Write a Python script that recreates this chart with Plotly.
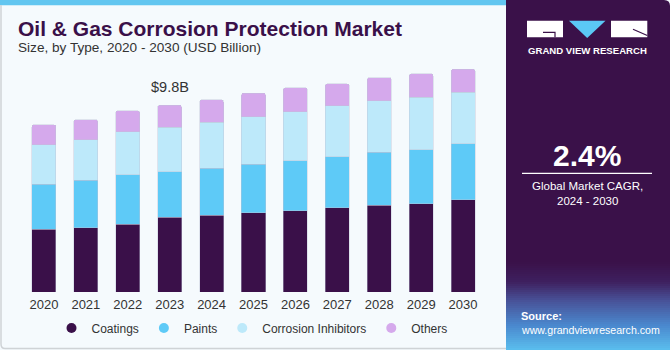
import plotly.graph_objects as go

years = ["2020", "2021", "2022", "2023", "2024", "2025", "2026", "2027", "2028", "2029", "2030"]
coatings = [3.28, 3.38, 3.56, 3.92, 4.03, 4.15, 4.27, 4.41, 4.55, 4.62, 4.83]
paints = [2.37, 2.48, 2.58, 2.37, 2.46, 2.55, 2.62, 2.67, 2.77, 2.83, 2.93]
inhibitors = [2.06, 2.12, 2.27, 2.35, 2.41, 2.48, 2.55, 2.67, 2.70, 2.76, 2.72]
others = [1.05, 1.05, 1.08, 1.15, 1.17, 1.24, 1.26, 1.15, 1.22, 1.22, 1.20]

series_names = ["Coatings", "Paints", "Corrosion Inhibitors", "Others"]
series_colors = ["#3a1049", "#5ecaf7", "#bde9fa", "#d5a9ec"]
series_values = [coatings, paints, inhibitors, others]

highlight_year = "2023"
highlight_label = "$9.8B"
cagr_text = "2.4%"

W, H = 670, 350
ML, MR, MT, MB = 23, 186, 63, 58
PW, PH = W - ML - MR, H - MT - MB


def px(x):
    return (x - ML) / PW


def py(y):
    return (H - MB - y) / PH


FONT = "Liberation Sans"
BG = "#f5fafd"
PANEL = "#3a1149"

fig = go.Figure()
for name, col, vals in zip(series_names, series_colors, series_values):
    fig.add_trace(go.Bar(
        x=years, y=vals, name=name, marker_color=col,
        marker_line=dict(width=0.6, color="rgba(190,195,215,0.7)"),
        showlegend=False,
    ))
for name, col in zip(series_names, series_colors):
    fig.add_trace(go.Scatter(
        x=[None], y=[None], mode="markers", name=name,
        marker=dict(color=col, size=10, symbol="circle"),
    ))

idx = years.index(highlight_year)
total = coatings[idx] + paints[idx] + inhibitors[idx] + others[idx]

shapes = []
# top strip
shapes.append(dict(type="rect", xref="paper", yref="paper", x0=px(0), x1=px(506), y0=py(0), y1=py(5.3),
                   fillcolor="#62c6f0", line_width=0, layer="below"))
# left panel border
shapes.append(dict(type="path", xref="paper", yref="paper",
                   path=f"M {px(1)} {py(5)} L {px(1)} {py(344)} Q {px(1)} {py(348.5)} {px(5)} {py(348.5)} L {px(506)} {py(348.5)}",
                   line=dict(color="#cfd3d6", width=1.5), layer="below"))
# right panel
shapes.append(dict(type="path", xref="paper", yref="paper",
                   path=f"M {px(506)} {py(0)} L {px(664)} {py(0)} Q {px(670)} {py(0)} {px(670)} {py(6)} L {px(670)} {py(350)} L {px(506)} {py(350)} Z",
                   fillcolor=PANEL, line_width=0, layer="below"))

# gradient at panel bottom
stops = [(262, (58, 17, 73)), (282, (62, 32, 95)), (300, (72, 80, 150)), (325, (74, 135, 205)), (350, (90, 190, 238))]
n = 44
y_start, y_end = 262, 350
for i in range(n):
    ya = y_start + (y_end - y_start) * i / n
    yb = y_start + (y_end - y_start) * (i + 1) / n
    ym = (ya + yb) / 2
    for (s0, c0), (s1, c1) in zip(stops[:-1], stops[1:]):
        if s0 <= ym <= s1:
            t = (ym - s0) / (s1 - s0)
            c = tuple(int(round(a + (b - a) * t)) for a, b in zip(c0, c1))
            break
    shapes.append(dict(type="rect", xref="paper", yref="paper", x0=px(506), x1=px(670),
                       y0=py(yb + 0.3), y1=py(ya), fillcolor=f"rgb{c}", line_width=0, layer="below"))

# logo
shapes.append(dict(type="rect", xref="paper", yref="paper", x0=px(527), x1=px(563), y0=py(37.3), y1=py(20.7),
                   fillcolor="white", line_width=0))
shapes.append(dict(type="path", xref="paper", yref="paper",
                   path=f"M {px(543)} {py(32.3)} L {px(555)} {py(32.3)} L {px(555)} {py(37.3)}",
                   line=dict(color=PANEL, width=1.2)))
shapes.append(dict(type="path", xref="paper", yref="paper",
                   path=f"M {px(569)} {py(20.7)} L {px(605.5)} {py(20.7)} L {px(587.2)} {py(38)} Z",
                   fillcolor="#5bc8f5", line_width=0))
shapes.append(dict(type="rect", xref="paper", yref="paper", x0=px(611), x1=px(647.3), y0=py(37.3), y1=py(20.7),
                   fillcolor="white", line_width=0))
shapes.append(dict(type="path", xref="paper", yref="paper",
                   path=f"M {px(633)} {py(29.3)} L {px(647.3)} {py(35.5)}",
                   line=dict(color=PANEL, width=1.2)))
# CAGR divider
shapes.append(dict(type="line", xref="paper", yref="paper", x0=px(522), x1=px(652), y0=py(173.3), y1=py(173.3),
                   line=dict(color="white", width=1.2)))

annotations = [
    dict(text="Oil & Gas Corrosion Protection Market", x=px(16), y=py(28.5), xref="paper", yref="paper",
         xanchor="left", yanchor="middle", showarrow=False,
         font=dict(family=FONT, size=21, color="#3a1049", weight="bold")),
    dict(text="Size, by Type, 2020 - 2030 (USD Billion)", x=px(16), y=py(47.7), xref="paper", yref="paper",
         xanchor="left", yanchor="middle", showarrow=False,
         font=dict(family=FONT, size=13.6, color="#333333")),
    dict(text=highlight_label, x=idx, y=total, xref="x", yref="y", yshift=18,
         xanchor="center", yanchor="middle", showarrow=False,
         font=dict(family=FONT, size=14.5, color="#333333")),
    dict(text="GRAND VIEW RESEARCH", x=px(587), y=py(50.7), xref="paper", yref="paper",
         xanchor="center", yanchor="middle", showarrow=False,
         font=dict(family=FONT, size=9.6, color="white", weight="bold")),
    dict(text=cagr_text, x=px(587), y=py(155.5), xref="paper", yref="paper",
         xanchor="center", yanchor="middle", showarrow=False,
         font=dict(family=FONT, size=30, color="white", weight="bold")),
    dict(text="Global Market CAGR,", x=px(587), y=py(185.7), xref="paper", yref="paper",
         xanchor="center", yanchor="middle", showarrow=False,
         font=dict(family=FONT, size=11.5, color="white")),
    dict(text="2024 - 2030", x=px(587), y=py(201), xref="paper", yref="paper",
         xanchor="center", yanchor="middle", showarrow=False,
         font=dict(family=FONT, size=11.5, color="white")),
    dict(text="Source:", x=px(518.5), y=py(315.7), xref="paper", yref="paper",
         xanchor="left", yanchor="middle", showarrow=False,
         font=dict(family=FONT, size=11, color="white", weight="bold")),
    dict(text="www.grandviewresearch.com", x=px(518.5), y=py(330), xref="paper", yref="paper",
         xanchor="left", yanchor="middle", showarrow=False,
         font=dict(family=FONT, size=10.6, color="white")),
]

fig.update_layout(
    width=W, height=H,
    margin=dict(l=ML, r=MR, t=MT, b=MB, pad=0, autoexpand=False),
    paper_bgcolor=BG, plot_bgcolor=BG,
    barmode="stack", bargap=0.427, barcornerradius=2,
    font=dict(family=FONT, color="#333333"),
    xaxis=dict(type="category", range=[-0.5, 10.5], showgrid=False, showline=False, zeroline=False,
               ticks="", ticklabelstandoff=3, tickfont=dict(size=13, color="#333333"), fixedrange=True),
    yaxis=dict(range=[0, 12], visible=False, fixedrange=True),
    legend=dict(orientation="h", x=252 / W, xanchor="center", y=(H - 328) / H, yanchor="middle",
                xref="container", yref="container", font=dict(size=12, color="#333333"), traceorder="normal",
                bgcolor="rgba(0,0,0,0)", itemclick=False, itemdoubleclick=False, tracegroupgap=0),
    shapes=shapes,
    annotations=annotations,
    showlegend=True,
)

fig.write_html("out.html", config={"displayModeBar": False})
